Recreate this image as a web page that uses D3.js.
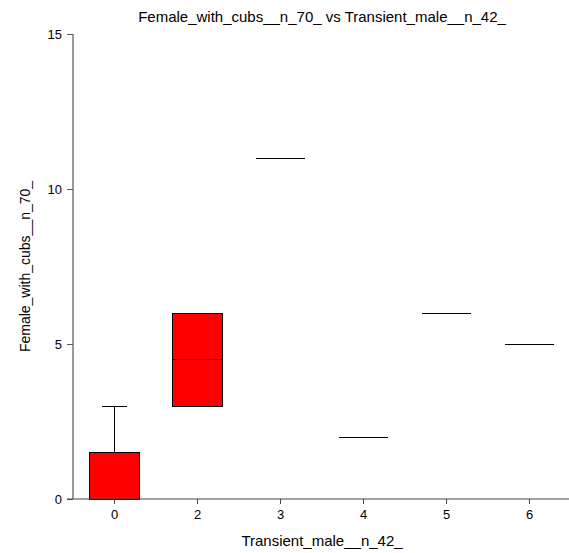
<!DOCTYPE html>
<html><head><meta charset="utf-8">
<script src="https://cdn.jsdelivr.net/npm/d3@7"></script>
<style>body{margin:0;background:#fff}svg{display:block}text{font-family:"Liberation Sans",Arial,sans-serif}</style>
</head><body><svg id="c" width="569" height="553"></svg>
<script>
const categories = ["0","2","3","4","5","6"];
const mins    = [0, 3, 11, 2, 6, 5];
const q1s     = [0, 3, 11, 2, 6, 5];
const medians = [0, 4.5, 11, 2, 6, 5];
const q3s     = [1.5, 6, 11, 2, 6, 5];
const maxs    = [3, 6, 11, 2, 6, 5];
const yTicks  = [0, 5, 10, 15];
const title = "Female_with_cubs__n_70_ vs Transient_male__n_42_";
const xLabel = "Transient_male__n_42_";
const yLabel = "Female_with_cubs__n_70_";

(function () {
const svg = d3.select("#c");
const mLeft = 73, mRight = 571, mTop = 34, mBottom = 499;
const x = d3.scaleBand().domain(categories).range([mLeft, mRight]).padding(0);
const y = d3.scaleLinear().domain([0, 15]).range([mBottom, mTop]);
const bw = x.bandwidth() * 0.6;
const cw = bw * 0.5;

const data = categories.map((c, i) => ({c, min: mins[i], q1: q1s[i], med: medians[i], q3: q3s[i], max: maxs[i]}));

const g = svg.append("g").attr("shape-rendering", "crispEdges");
data.forEach(d => {
  const cx = x(d.c) + x.bandwidth() / 2;
  if (d.max > d.q3) {
    g.append("line").attr("x1", cx).attr("x2", cx).attr("y1", y(d.q3)).attr("y2", y(d.max)).attr("stroke", "#000");
  }
  if (d.min < d.q1) {
    g.append("line").attr("x1", cx).attr("x2", cx).attr("y1", y(d.q1)).attr("y2", y(d.min)).attr("stroke", "#000");
  }
  g.append("line").attr("x1", cx - cw / 2).attr("x2", cx + cw / 2).attr("y1", y(d.max)).attr("y2", y(d.max)).attr("stroke", "#000");
  g.append("line").attr("x1", cx - cw / 2).attr("x2", cx + cw / 2).attr("y1", y(d.min)).attr("y2", y(d.min)).attr("stroke", "#000");
  g.append("rect").attr("x", cx - bw / 2).attr("y", y(d.q3)).attr("width", bw)
    .attr("height", Math.max(0, y(d.q1) - y(d.q3))).attr("fill", "#ff0000").attr("stroke", "#000").attr("stroke-width", 1);
  g.append("line").attr("x1", cx - bw / 2).attr("x2", cx + bw / 2).attr("y1", y(d.med)).attr("y2", y(d.med)).attr("stroke", "#000");
});

const ya = svg.append("g").attr("transform", `translate(${mLeft},0)`)
  .call(d3.axisLeft(y).tickValues(yTicks).tickSize(6).tickPadding(5).tickFormat(d3.format("d")));
ya.select(".domain").attr("stroke", "#777").attr("stroke-width", 1.5).attr("d", `M0,${mTop}V${mBottom}`);
ya.selectAll(".tick line").attr("stroke", "#555");
ya.selectAll("text").attr("font-size", 13).attr("fill", "#000").attr("font-family", "Liberation Sans, Arial, sans-serif");

const xa = svg.append("g").attr("transform", `translate(0,${mBottom})`)
  .call(d3.axisBottom(x).tickSize(5).tickPadding(6));
xa.select(".domain").attr("stroke", "#444").attr("d", `M${mLeft - 6},0H569`);
xa.selectAll(".tick line").attr("stroke", "#444");
xa.selectAll("text").attr("font-size", 13).attr("fill", "#000").attr("font-family", "Liberation Sans, Arial, sans-serif");

svg.append("text").attr("x", (mLeft + mRight) / 2).attr("y", 22).attr("text-anchor", "middle")
  .attr("font-size", 15).text(title);
svg.append("text").attr("x", (mLeft + mRight) / 2).attr("y", 546).attr("text-anchor", "middle")
  .attr("font-size", 15).text(xLabel);
svg.append("text").attr("transform", `translate(30,${(mTop + mBottom) / 2}) rotate(-90)`).attr("text-anchor", "middle")
  .attr("font-size", 14).text(yLabel);
})();
</script></body></html>
